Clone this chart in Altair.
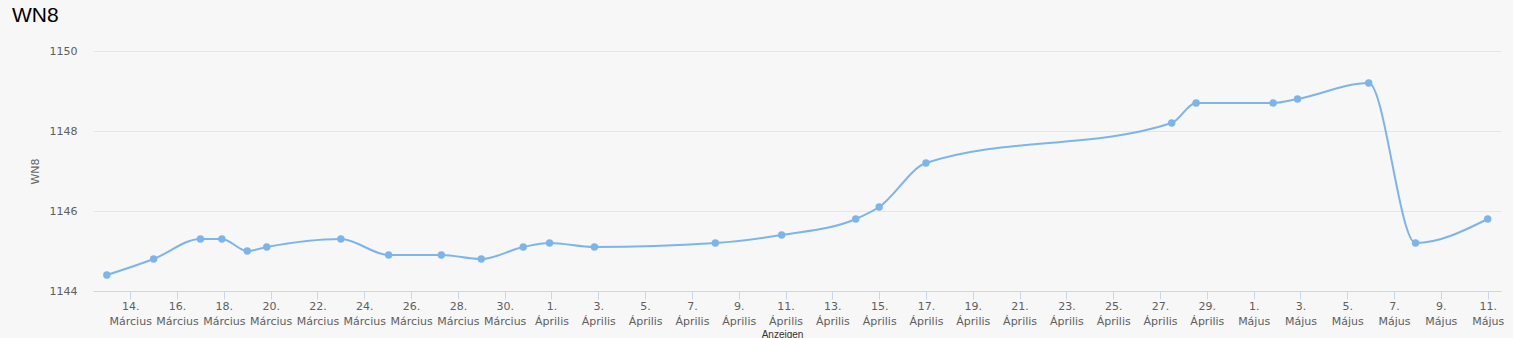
import altair as alt
import pandas as pd

# ---- data ----
dates = [
    "2016-03-13T00:00:00Z", "2016-03-15T00:00:00Z", "2016-03-17T00:00:00Z",
    "2016-03-17T22:00:00Z", "2016-03-19T00:00:00Z", "2016-03-19T20:00:00Z",
    "2016-03-23T00:00:00Z", "2016-03-25T01:00:00Z", "2016-03-27T07:00:00Z",
    "2016-03-29T00:00:00Z", "2016-03-30T19:00:00Z", "2016-03-31T22:00:00Z",
    "2016-04-02T20:00:00Z", "2016-04-08T00:00:00Z", "2016-04-10T20:00:00Z",
    "2016-04-14T00:00:00Z", "2016-04-15T00:00:00Z", "2016-04-17T00:00:00Z",
    "2016-04-27T12:00:00Z", "2016-04-28T13:00:00Z", "2016-05-01T20:00:00Z",
    "2016-05-02T21:00:00Z", "2016-05-05T22:00:00Z", "2016-05-07T22:00:00Z",
    "2016-05-11T00:00:00Z",
]
wn8 = [
    1144.4, 1144.8, 1145.3, 1145.3, 1145.0, 1145.1, 1145.3, 1144.9, 1144.9,
    1144.8, 1145.1, 1145.2, 1145.1, 1145.2, 1145.4, 1145.8, 1146.1, 1147.2,
    1148.2, 1148.7, 1148.7, 1148.8, 1149.2, 1145.2, 1145.8,
]
tick_dates = [
    "2016-03-14", "2016-03-16", "2016-03-18", "2016-03-20", "2016-03-22",
    "2016-03-24", "2016-03-26", "2016-03-28", "2016-03-30", "2016-04-01",
    "2016-04-03", "2016-04-05", "2016-04-07", "2016-04-09", "2016-04-11",
    "2016-04-13", "2016-04-15", "2016-04-17", "2016-04-19", "2016-04-21",
    "2016-04-23", "2016-04-25", "2016-04-27", "2016-04-29", "2016-05-01",
    "2016-05-03", "2016-05-05", "2016-05-07", "2016-05-09", "2016-05-11",
]
y_ticks = [1144, 1146, 1148, 1150]
month_names = ["Január", "Február", "Március", "Április", "Május", "Június",
               "Július", "Augusztus", "Szeptember", "Október", "November", "December"]
x_domain = ["2016-03-12T09:50:00Z", "2016-05-11T13:40:00Z"]


def ms(s):
    t = pd.Timestamp(s)
    if t.tzinfo is None:
        t = t.tz_localize("UTC")
    return int(t.timestamp() * 1000)


df = pd.DataFrame({"date": dates, "WN8": wn8})

months_js = "[" + ",".join("'" + m + "'" for m in month_names) + "]"
label_expr = "[utcdate(datum.value) + '.', " + months_js + "[utcmonth(datum.value)]]"

color = "#7cb5ec"

x_enc = alt.X(
    "date:T",
    scale=alt.Scale(type="utc", domain=[ms(d) for d in x_domain], nice=False),
    axis=alt.Axis(
        values=[ms(d) for d in tick_dates],
        labelExpr=label_expr,
        labelFont="DejaVu Sans",
        labelFontSize=11,
        labelColor="#606060",
        labelLineHeight=15,
        labelPadding=1,
        labelOverlap=False,
        labelFlush=False,
        tickSize=8,
        tickColor="#ccd6eb",
        domainColor="#ccd6eb",
        grid=False,
        title="Anzeigen",
        titleFont="Liberation Sans",
        titleFontSize=10,
        titleFontWeight="normal",
        titleColor="#333333",
        titleX=689,
        titleY=38,
        titleBaseline="top",
        titleAlign="center",
    ),
)
y_enc = alt.Y(
    "WN8:Q",
    scale=alt.Scale(domain=[1144, 1150], nice=False, zero=False),
    axis=alt.Axis(
        values=y_ticks,
        format="d",
        domain=False,
        ticks=False,
        gridColor="#e6e6e6",
        labelFont="DejaVu Sans",
        labelFontSize=11,
        labelColor="#606060",
        labelPadding=16,
        title="WN8",
        titleFont="DejaVu Sans",
        titleFontSize=11,
        titleFontWeight="normal",
        titleColor="#666666",
        titleX=-58,
        titleY=120,
        titleAngle=-90,
        titleAlign="center",
        titleBaseline="middle",
    ),
)

line = alt.Chart(df).mark_line(
    color=color, strokeWidth=2, interpolate="monotone"
).encode(x=x_enc, y=y_enc)
pts = alt.Chart(df).mark_circle(color=color, size=55, opacity=1).encode(
    x=x_enc, y=y_enc
)

chart = (
    alt.layer(line, pts)
    .properties(
        width=1408,
        height=240,
        autosize=alt.AutoSizeParams(type="none"),
        padding={"left": 93, "top": 51, "right": 12, "bottom": 47},
        background="#f7f7f7",
        title=alt.Title(
            text="WN8",
            anchor="start",
            frame="group",
            font="Liberation Sans",
            fontSize=21,
            fontWeight="normal",
            color="#000000",
            dx=-81,
            offset=19,
        ),
    )
    .configure_view(stroke=None)
)

chart.save("out.html", embed_options={"renderer": "svg", "actions": False})
